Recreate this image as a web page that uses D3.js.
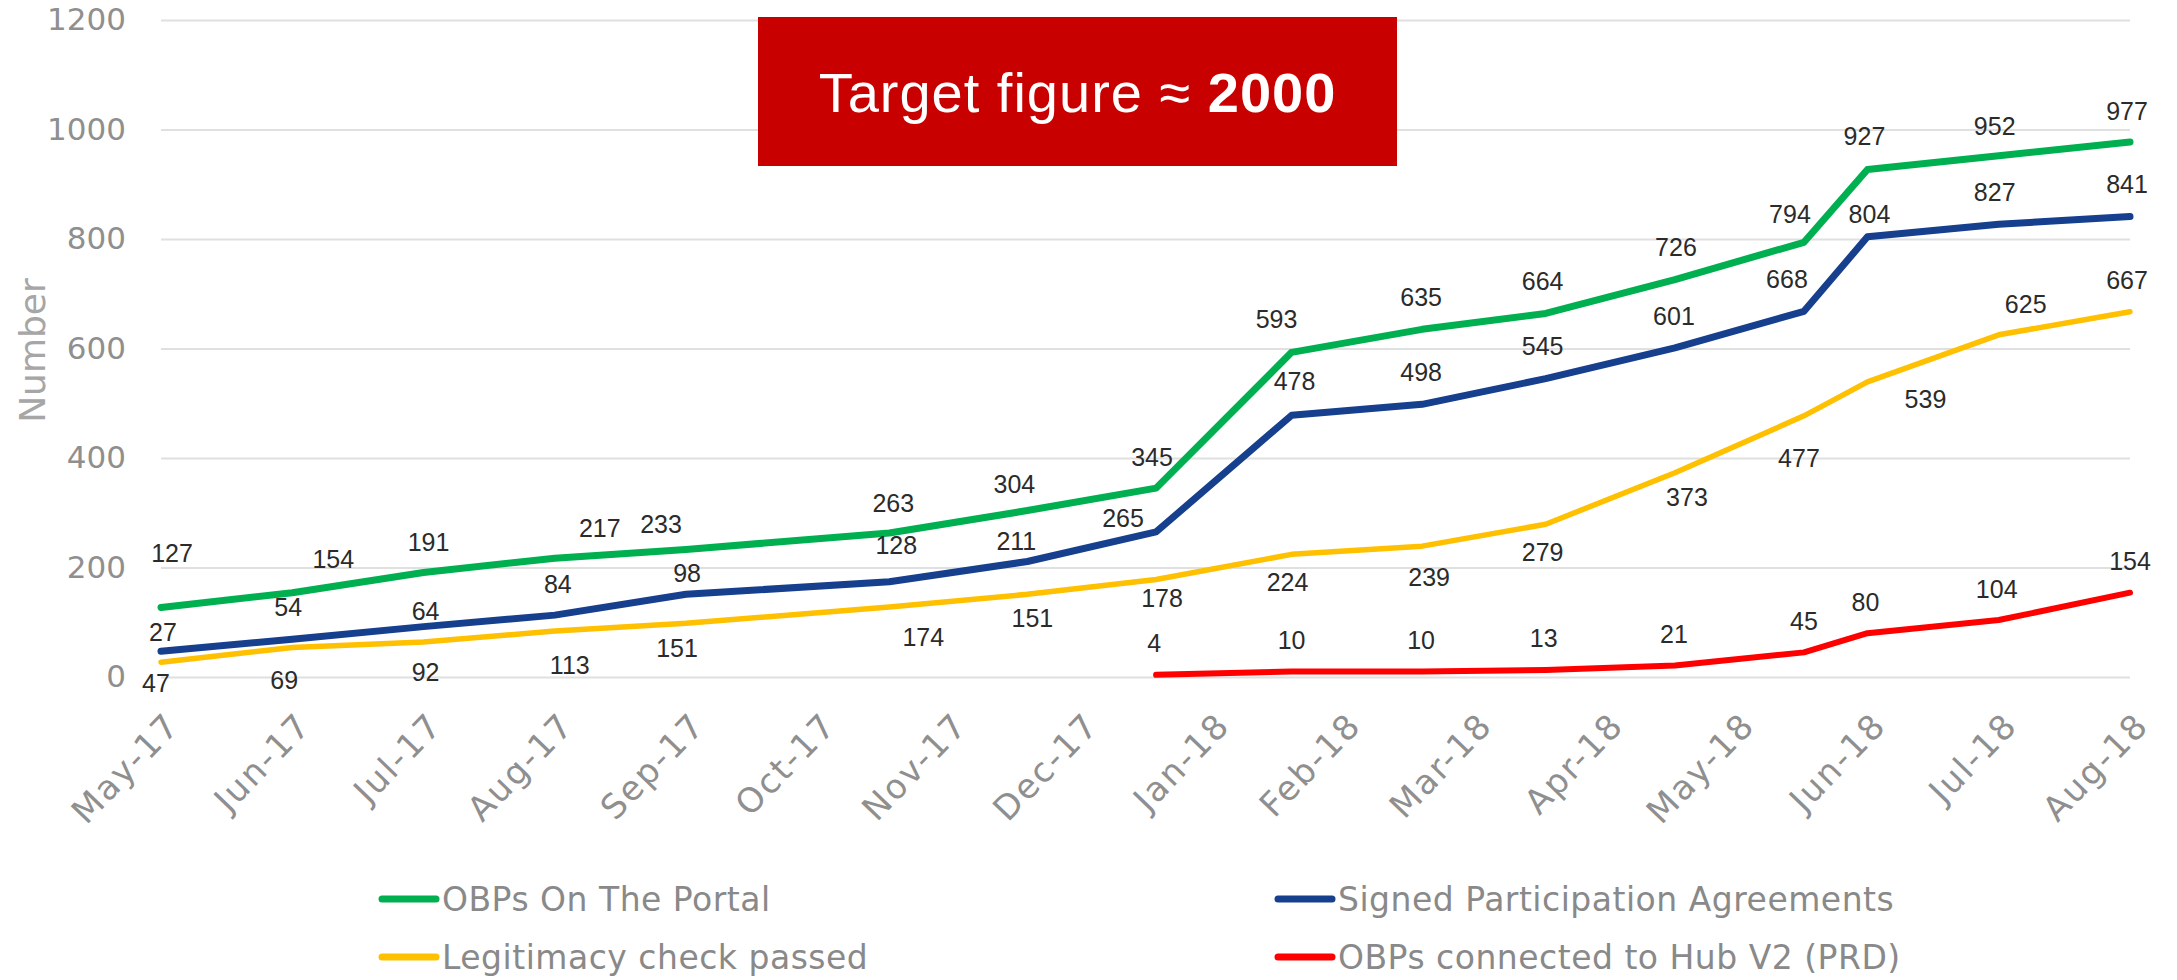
<!DOCTYPE html>
<html lang="en">
<head>
  <meta charset="UTF-8">
  <title>OBPs progress</title>
  <script src="https://d3js.org/d3.v7.min.js"></script>
  <style>
    body {
      margin: 0;
      padding: 0;
      background-color: #fff;
    }
    text {
      font-family: "DejaVu Sans", sans-serif;
    }
    .grid line {
      stroke: #e0e0e0;
      stroke-width: 2;
    }
    .tick text {
      fill: #8f8f8f;
    }
    .label {
      font-family: "Liberation Sans", Arial, sans-serif;
      font-size: 25px;
      fill: #2b2b2b;
    }
    .legend text {
      font-size: 33px;
      letter-spacing: 0.5px;
      fill: #898989;
    }
  </style>
</head>
<body>

<div id="chart"></div>

<script>
  // month categories on the x axis
  const months = ["May-17", "Jun-17", "Jul-17", "Aug-17", "Sep-17", "Oct-17", "Nov-17", "Dec-17",
                  "Jan-18", "Feb-18", "Mar-18", "Apr-18", "May-18", "Jun-18", "Jul-18", "Aug-18"];

  // dates of the data points
  const pointDates = ["2017-05-01", "2017-06-01", "2017-07-01", "2017-08-01", "2017-09-01",
                      "2017-10-18", "2017-11-19", "2017-12-19", "2018-01-20", "2018-02-18",
                      "2018-03-18", "2018-04-17", "2018-05-17", "2018-06-01", "2018-07-01", "2018-08-01"];

  const portal = [127, 154, 191, 217, 233, 263, 304, 345, 593, 635, 664, 726, 794, 927, 952, 977];
  const signed = [47, 69, 92, 113, 151, 174, 211, 265, 478, 498, 545, 601, 668, 804, 827, 841];
  const legit  = [27, 54, 64, 84, 98, 128, 151, 178, 224, 239, 279, 373, 477, 539, 625, 667];
  const hubDates = pointDates.slice(7);
  const hub    = [4, 10, 10, 13, 21, 45, 80, 104, 154];

  const yTicks = [0, 200, 400, 600, 800, 1000, 1200];

  // where each data label sits relative to its point (px), as placed in the original
  const nudgePortal = [[11,-54],[41,-33],[5,-30],[45,-30],[-25,-25],[4,-30],[-13,-26],[-4,-31],
                       [-15,-33],[-1,-32],[-3,-32],[1,-32],[-14,-28],[-3,-33],[-4,-30],[-3,-31]];
  const nudgeSigned = [[-5,32],[-8,41],[2,46],[15,50],[-9,54],[34,56],[-11,-20],[-33,-14],
                       [3,-34],[-1,-32],[-3,-32],[-1,-32],[-17,-32],[2,-23],[-4,-32],[-3,-32]];
  const nudgeLegit  = [[2,-30],[-4,-40],[2,-31],[3,-47],[1,-50],[7,-62],[5,24],[6,19],
                       [-4,28],[7,31],[-3,28],[12,24],[-5,42],[58,17],[27,-31],[-3,-32]];
  const nudgeHub    = [[-2,-32],[0,-31],[-1,-31],[-2,-32],[-1,-31],[0,-31],[-2,-31],[-2,-31],[0,-31]];

  const width = 2177, height = 980;

  // months since May 2017, with the day as a fraction of the month
  function monthPos(s) {
    const [yy, mm, dd] = s.split("-").map(Number);
    const days = new Date(yy, mm, 0).getDate();
    return (yy - 2017) * 12 + (mm - 5) + (dd - 1) / days;
  }

  const x = d3.scaleLinear().domain([0, months.length - 1]).range([161, 2130]);
  const y = d3.scaleLinear().domain([0, 1200]).range([677, 20]);

  const svg = d3.select("#chart")
    .append("svg")
    .attr("width", width)
    .attr("height", height);

  // gridlines + y tick labels
  const yAxis = svg.append("g")
    .attr("class", "grid")
    .attr("transform", `translate(${x.range()[0]},0)`)
    .call(d3.axisLeft(y).tickValues(yTicks).tickFormat(d3.format("d"))
      .tickSize(-(x.range()[1] - x.range()[0])).tickPadding(35));
  yAxis.select(".domain").remove();
  yAxis.selectAll("text").style("font-size", "31px").attr("font-family", "DejaVu Sans");

  // x axis labels, slanted
  const xAxis = svg.append("g")
    .attr("transform", `translate(0,${y(0)})`)
    .call(d3.axisBottom(x).tickValues(d3.range(months.length)).tickFormat(i => months[i]).tickSize(0));
  xAxis.select(".domain").remove();
  xAxis.selectAll("text")
    .attr("x", 0).attr("y", 0).attr("dy", 0)
    .attr("text-anchor", "end")
    .attr("transform", "translate(20,50) rotate(-46)")
    .style("font-size", "34px")
    .style("letter-spacing", "2px")
    .attr("font-family", "DejaVu Sans");

  // axis title
  svg.append("text")
    .attr("transform", `translate(45,${(y(0) + y(1200)) / 2 + 2}) rotate(-90)`)
    .attr("text-anchor", "middle")
    .style("font-size", "36px")
    .attr("fill", "#a6a6a6")
    .text("Number");

  const series = [
    { name: "OBPs On The Portal", color: "#00b050", width: 7, dates: pointDates, values: portal, nudge: nudgePortal },
    { name: "Signed Participation Agreements", color: "#163f8d", width: 7, dates: pointDates, values: signed, nudge: nudgeSigned },
    { name: "Legitimacy check passed", color: "#ffc000", width: 5.5, dates: pointDates, values: legit, nudge: nudgeLegit },
    { name: "OBPs connected to Hub V2 (PRD)", color: "#ff0000", width: 6, dates: hubDates, values: hub, nudge: nudgeHub }
  ];

  const line = d3.line()
    .x(d => x(d.t))
    .y(d => y(d.v));

  series.slice().reverse().forEach(s => {
    const pts = s.values.map((v, i) => ({ t: monthPos(s.dates[i]), v: v, n: s.nudge[i] }));
    svg.append("path")
      .datum(pts)
      .attr("fill", "none")
      .attr("stroke", s.color)
      .attr("stroke-width", s.width)
      .attr("stroke-linejoin", "round")
      .attr("stroke-linecap", "round")
      .attr("d", line);
    s.pts = pts;
  });

  series.forEach(s => {
    svg.append("g").selectAll("text")
      .data(s.pts)
      .join("text")
      .attr("class", "label")
      .attr("text-anchor", "middle")
      .attr("dy", "0.35em")
      .attr("x", d => x(d.t) + d.n[0])
      .attr("y", d => y(d.v) + d.n[1])
      .text(d => d.v);
  });

  // red target box
  const box = svg.append("g");
  box.append("rect")
    .attr("x", 758).attr("y", 17)
    .attr("width", 639).attr("height", 149)
    .attr("fill", "#c80000");
  const t = box.append("text")
    .attr("x", 758 + 639 / 2)
    .attr("y", 112)
    .attr("text-anchor", "middle")
    .attr("fill", "#fff")
    .style("font-family", "'Liberation Sans', Arial, sans-serif")
    .style("font-size", "56px")
    .style("letter-spacing", "1px");
  t.append("tspan").text("Target figure \u2248 ");
  t.append("tspan").attr("font-weight", "bold").text("2000");

  // legend
  const legendPos = [[382, 899], [1278, 899], [382, 957], [1278, 957]];
  const legend = svg.append("g").attr("class", "legend");
  series.forEach((s, i) => {
    const [lx, ly] = legendPos[i];
    legend.append("line")
      .attr("x1", lx).attr("x2", lx + 54)
      .attr("y1", ly).attr("y2", ly)
      .attr("stroke", s.color)
      .attr("stroke-width", 7)
      .attr("stroke-linecap", "round");
    legend.append("text")
      .attr("x", lx + 60)
      .attr("y", ly)
      .attr("dy", "0.36em")
      .text(s.name);
  });
</script>
</body>
</html>
